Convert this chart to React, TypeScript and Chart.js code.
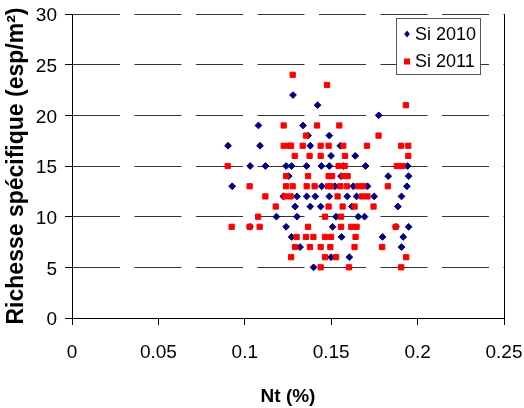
import React, { useEffect, useRef } from 'react';
import { Chart, registerables } from 'chart.js';

Chart.register(...registerables);

// Si 2010 (blue diamonds)
const nt2010 = [
  0.0903, 0.1079, 0.1088, 0.1031, 0.112, 0.1239, 0.1254, 0.0927, 0.1223, 0.1183,
  0.103, 0.1239, 0.1271, 0.1279, 0.1421, 0.1775, 0.1337, 0.1366, 0.1489, 0.1379,
  0.1553, 0.1499, 0.1639, 0.1271, 0.1358, 0.1443, 0.1489, 0.157, 0.1699, 0.1557,
  0.1445, 0.1522, 0.1628, 0.171, 0.1302, 0.1358, 0.1408, 0.1489, 0.1593, 0.1647,
  0.1749, 0.1291, 0.1379, 0.1439, 0.162, 0.1302, 0.1528, 0.1657, 0.1693, 0.1508,
  0.156, 0.132, 0.1499, 0.1605, 0.1398, 0.1942, 0.183, 0.1948, 0.1938, 0.1907,
  0.1886, 0.1875, 0.1948, 0.1797, 0.1917, 0.1907,
];
const rich2010 = [
  17, 19, 17, 15, 15, 15, 14, 13, 12, 10,
  9, 9, 8, 22, 21, 20, 19, 18, 18, 17,
  17, 16, 16, 15, 15, 15, 15, 15, 15, 14,
  13, 13, 13, 13, 12, 12, 12, 12, 12, 12,
  12, 11, 11, 11, 11, 10, 10, 10, 10, 9,
  8, 7, 6, 6, 5, 15, 14, 14, 13, 12,
  11, 9, 9, 8, 8, 7,
];

// Si 2011 (red squares)
const nt2011 = [
  0.1225, 0.1225, 0.1258, 0.0901, 0.1239, 0.1028, 0.1239, 0.1119, 0.1232, 0.1265,
  0.1179, 0.1077, 0.0924, 0.1028, 0.1086, 0.1268, 0.1277, 0.1476, 0.1418, 0.1547,
  0.1354, 0.1774, 0.1268, 0.1335, 0.1439, 0.1485, 0.157, 0.1707, 0.1289, 0.1375,
  0.1439, 0.158, 0.1543, 0.1578, 0.1366, 0.1485, 0.1505, 0.157, 0.1595, 0.1277,
  0.1358, 0.1404, 0.1482, 0.1499, 0.1553, 0.1591, 0.1657, 0.1686, 0.1537, 0.1678,
  0.171, 0.1485, 0.1566, 0.1635, 0.1745, 0.1464, 0.1557, 0.1366, 0.1557, 0.1616,
  0.1647, 0.13, 0.1354, 0.1397, 0.1464, 0.1499, 0.1641, 0.1291, 0.1377, 0.1439,
  0.1495, 0.1635, 0.1464, 0.1528, 0.1439, 0.1603, 0.1932, 0.1905, 0.1946, 0.1946,
  0.188, 0.1913, 0.1828, 0.1873, 0.1795, 0.1934, 0.1905,
];
const rich2011 = [
  19, 17, 17, 15, 14, 13, 13, 12, 12, 12,
  11, 10, 9, 9, 9, 6, 24, 23, 19, 19,
  18, 18, 17, 17, 17, 17, 17, 17, 16, 16,
  16, 16, 15, 15, 14, 14, 14, 14, 14, 13,
  13, 13, 13, 13, 13, 13, 13, 13, 12, 12,
  12, 11, 11, 11, 11, 10, 10, 9, 9, 9,
  9, 8, 8, 8, 8, 8, 8, 7, 7, 7,
  7, 7, 6, 6, 5, 5, 21, 17, 17, 16,
  15, 15, 13, 9, 7, 6, 5,
];

const xTickLabels = ['0', '0.05', '0.1', '0.15', '0.2', '0.25'];
const yTickLabels = ['0', '5', '10', '15', '20', '25', '30'];
const seriesNames = ['Si 2010', 'Si 2011'];
const xTitle = 'Nt (%)';
const yTitle = 'Richesse spécifique (esp/m²)';

const BLUE = '#000080';
const RED = '#FF0000';
const FONT = "'Liberation Sans', Arial, sans-serif";

const frameAndLegend = {
  id: 'frameAndLegend',
  beforeDatasetsDraw(chart: any) {
    const { ctx, chartArea } = chart;
    const x = Math.round(chartArea.right) + 0.5;
    ctx.save();
    ctx.strokeStyle = '#000';
    ctx.lineWidth = 1;
    ctx.beginPath();
    ctx.moveTo(x, chartArea.top);
    ctx.lineTo(x, chartArea.bottom);
    ctx.stroke();
    ctx.restore();
  },
  afterDraw(chart: any) {
    const { ctx, chartArea } = chart;
    const x0 = Math.round(chartArea.right - 108);
    const y0 = Math.round(chartArea.top + 4);
    const w = 84;
    const h = 56;
    ctx.save();
    ctx.fillStyle = '#ffffff';
    ctx.fillRect(x0, y0, w, h);
    ctx.strokeStyle = '#555555';
    ctx.lineWidth = 1;
    ctx.strokeRect(x0 + 0.5, y0 + 0.5, w, h);
    const mx = x0 + 11;
    const dy = y0 + 16;
    ctx.fillStyle = BLUE;
    ctx.beginPath();
    ctx.moveTo(mx, dy - 3.5);
    ctx.lineTo(mx + 2.8, dy);
    ctx.lineTo(mx, dy + 3.5);
    ctx.lineTo(mx - 2.8, dy);
    ctx.closePath();
    ctx.fill();
    const sy = y0 + 43.5;
    ctx.fillStyle = RED;
    ctx.fillRect(mx - 3, sy - 3, 6, 6);
    ctx.fillStyle = '#000000';
    ctx.font = `18px ${FONT}`;
    ctx.textBaseline = 'alphabetic';
    ctx.textAlign = 'left';
    ctx.fillText(seriesNames[0], x0 + 19, y0 + 21.5);
    ctx.fillText(seriesNames[1], x0 + 19, y0 + 48.7);
    ctx.restore();
  },
};

export default function App() {
  const ref = useRef<HTMLCanvasElement | null>(null);
  useEffect(() => {
    if (!ref.current) return;
    const chart = new Chart(ref.current, {
      type: 'scatter',
      data: {
        datasets: [
          {
            label: seriesNames[1],
            data: nt2011.map((x, i) => ({ x, y: rich2011[i] })),
            pointStyle: 'rect',
            pointRadius: 3.7,
            pointBorderWidth: 1,
            backgroundColor: RED,
            borderColor: RED,
            order: 0,
          },
          {
            label: seriesNames[0],
            data: nt2010.map((x, i) => ({ x, y: rich2010[i] })),
            pointStyle: 'rectRot',
            pointRadius: 3.4,
            pointBorderWidth: 1,
            backgroundColor: BLUE,
            borderColor: BLUE,
            order: 1,
          },
        ],
      },
      options: {
        responsive: false,
        animation: false,
        events: [],
        devicePixelRatio: 1,
        layout: { autoPadding: false, padding: { top: 14, right: 20, left: 0, bottom: 0 } },
        plugins: {
          legend: { display: false },
          tooltip: { enabled: false },
        },
        scales: {
          x: {
            type: 'linear',
            min: 0,
            max: 0.25,
            afterFit: (s: any) => {
              s.height = 90;
              s.paddingLeft = 0;
              s.paddingRight = 0;
            },
            ticks: {
              stepSize: 0.05,
              color: '#000',
              padding: 16,
              font: { family: FONT, size: 19 },
              maxRotation: 0,
              callback: (_v: any, i: number) => xTickLabels[i],
            },
            grid: {
              drawOnChartArea: false,
              drawTicks: true,
              tickLength: 7,
              tickColor: '#000',
              color: '#000',
            },
            border: { display: true, color: '#000', width: 1 },
            title: {
              display: true,
              text: xTitle,
              color: '#000',
              font: { family: FONT, size: 19, weight: 'bold' },
              padding: { top: 0, bottom: 0 },
            },
          },
          y: {
            type: 'linear',
            min: 0,
            max: 30,
            afterFit: (s: any) => {
              s.width = 72;
              s.paddingTop = 0;
              s.paddingBottom = 0;
            },
            ticks: {
              stepSize: 5,
              color: '#000',
              padding: 8,
              labelOffset: 2,
              font: { family: FONT, size: 19 },
              callback: (_v: any, i: number) => yTickLabels[i],
            },
            grid: {
              drawOnChartArea: true,
              drawTicks: true,
              tickLength: 7,
              tickColor: '#000',
              color: '#333',
              lineWidth: 1,
            },
            border: { display: true, color: '#000', width: 1, dash: [47, 14.5] },
            title: {
              display: true,
              text: yTitle,
              color: '#000',
              font: { family: FONT, size: 23, weight: 'bold' },
              padding: { top: 3, bottom: 0 },
            },
          },
        },
      },
      plugins: [frameAndLegend],
    });
    return () => chart.destroy();
  }, []);
  return (
    <div style={{ position: 'fixed', left: 0, top: 0, width: 524, height: 408, background: '#fff' }}>
      <canvas ref={ref} width={524} height={408} style={{ display: 'block', width: 524, height: 408 }} />
    </div>
  );
}
